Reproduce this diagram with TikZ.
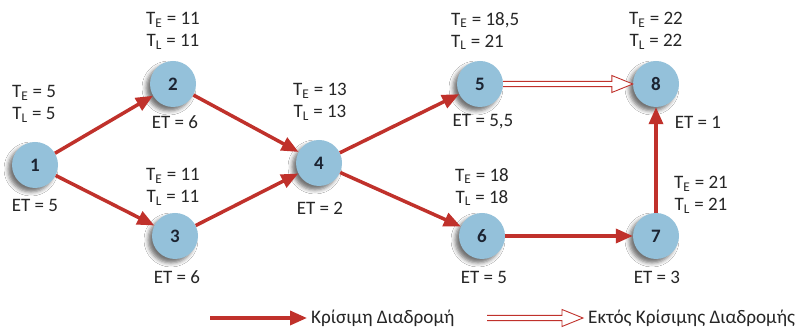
\documentclass[tikz,border=0pt]{standalone}
\usepackage{fontspec}
\setmainfont{Carlito}
\usetikzlibrary{arrows.meta,calc,shadows.blur}
\definecolor{nodeblue}{RGB}{148,193,218}
\definecolor{arrred}{RGB}{192,49,43}
\definecolor{txtcol}{RGB}{38,38,38}
\definecolor{numcol}{RGB}{28,36,50}
\newcommand\hollowarrow[2]{%
  \draw[hollow] ($(#1)+(0,2.6)$) -- ($(#2)+(-21,2.6)$) -- ($(#2)+(-21,8.5)$) -- (#2)
    -- ($(#2)+(-21,-8.5)$) -- ($(#2)+(-21,-2.6)$) -- ($(#1)+(0,-2.6)$);}
\begin{document}
\begin{tikzpicture}[x=1pt,y=1pt,
  ev/.style={circle, fill=nodeblue, minimum size=46pt, inner sep=0pt,
    font=\fontsize{19}{19}\selectfont\bfseries, text=numcol,
    blur shadow={shadow xshift=-4pt, shadow yshift=-4pt, shadow blur radius=4pt, shadow opacity=55}},
  lbl/.style={font=\fontsize{19}{22}\selectfont, text=txtcol, align=center, inner sep=0pt},
  leg/.style={font=\fontsize{19.2}{22}\selectfont, text=txtcol, inner sep=0pt, anchor=west},
  crit/.style={draw=arrred, line width=3.5pt, -{Triangle[length=17pt,width=14pt]}},
  hollow/.style={draw=arrred, line width=0.9pt, fill=white, line join=miter},
]
\useasboundingbox[fill=white] (0,0) rectangle (801,334);

% events
\node[ev] (n1) at (35,169) {1};
\node[ev] (n2) at (173,250) {2};
\node[ev] (n3) at (175,98) {3};
\node[ev] (n4) at (319,171) {4};
\node[ev] (n5) at (480,250) {5};
\node[ev] (n6) at (482,98) {6};
\node[ev] (n7) at (656,98) {7};
\node[ev] (n8) at (656,250) {8};

% connectors
\draw[crit] (n1) -- (n2);
\draw[crit] (n1) -- (n3);
\draw[crit] (n2) -- (n4);
\draw[crit] (n3) -- (n4);
\draw[crit] (n4) -- (n5);
\draw[crit] (n4) -- (n6);
\draw[crit] (n6) -- (n7);
\draw[crit] (n7) -- (n8);
\hollowarrow{n5.east}{n8.west}

% labels
\node[lbl] (t1) at (34,230) {T\textsubscript{E} = 5\\T\textsubscript{L} = 5};
\node[lbl] (e1) at (35,129) {ET = 5};
\node[lbl] (t2) at (173,303) {T\textsubscript{E} = 11\\T\textsubscript{L} = 11};
\node[lbl] (e2) at (175,212) {ET = 6};
\node[lbl] (t3) at (173,147) {T\textsubscript{E} = 11\\T\textsubscript{L} = 11};
\node[lbl] (e3) at (177,57) {ET = 6};
\node[lbl] (t4) at (320,232) {T\textsubscript{E} = 13\\T\textsubscript{L} = 13};
\node[lbl] (e4) at (320,126) {ET = 2};
\node[lbl, align=left, anchor=west] (t5) at (451,303) {T\textsubscript{E} = 18,5\\T\textsubscript{L} = 21};
\node[lbl] (e5) at (483,212) {ET = 5,5};
\node[lbl] (t6) at (482,147) {T\textsubscript{E} = 18\\T\textsubscript{L} = 18};
\node[lbl] (e6) at (484,57) {ET = 5};
\node[lbl] (t7) at (701,139) {T\textsubscript{E} = 21\\T\textsubscript{L} = 21};
\node[lbl] (e7) at (657,57) {ET = 3};
\node[lbl] (t8) at (656,303) {T\textsubscript{E} = 22\\T\textsubscript{L} = 22};
\node[lbl] (e8) at (698,212) {ET = 1};

% legend
\coordinate (la) at (210,16);
\coordinate (lb) at (307,16);
\draw[crit] (la) -- (lb);
\node[leg] (lt1) at (311,16) {Κρίσιμη Διαδρομή};
\coordinate (lc) at (487,16);
\coordinate (ld) at (583,16);
\hollowarrow{lc}{ld}
\node[leg] (lt2) at (588,16) {Εκτός Κρίσιμης Διαδρομής};
\end{tikzpicture}
\end{document}
